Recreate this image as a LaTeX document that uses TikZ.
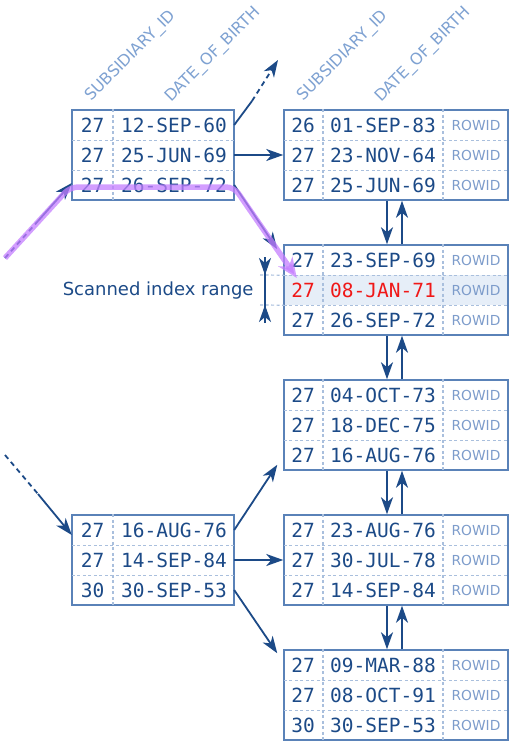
\documentclass[tikz,border=0pt]{standalone}
\usepackage{fontspec}
\setmainfont{DejaVu Sans}
\setmonofont{DejaVu Sans Mono}
\usetikzlibrary{arrows.meta}

\definecolor{navy}{HTML}{1C4A87}
\definecolor{boxblue}{HTML}{5A82B8}
\definecolor{seplight}{HTML}{A9BFDD}
\definecolor{rowblue}{HTML}{7D9CCB}
\definecolor{headblue}{HTML}{7FA2D2}
\definecolor{scanfill}{HTML}{E6EEF8}
\definecolor{scanpurple}{HTML}{C47EFF}
\definecolor{hitred}{HTML}{F01818}

\newcommand\cellfont{\ttfamily\fontsize{19.5}{22}\selectfont}
\newcommand\rowidfont{\fontsize{13.8}{16}\selectfont}
\newcommand\headfont{\fontsize{16}{18}\selectfont}
\newcommand\rangefont{\fontsize{18}{21}\selectfont}

\tikzset{
  box/.style={draw=boxblue, line width=1.5pt, inner sep=0pt, minimum height=90pt},
  branchbox/.style={box, minimum width=162pt},
  leafbox/.style={box, minimum width=224pt},
  cellrow/.style={inner sep=0pt, minimum height=30pt},
  sep/.style={draw=seplight, line width=1.2pt, dash pattern=on 3pt off 2.5pt},
  key/.style={text=navy, font=\cellfont, inner sep=0pt},
  rowid/.style={text=rowblue, font=\rowidfont, inner sep=0pt},
  head/.style={text=headblue, font=\headfont, rotate=45, anchor=base west, inner sep=0pt},
  wire/.style={draw=navy, line width=1.8pt},
  link/.style={wire, -{Stealth[length=17pt,width=12pt,inset=5pt]}},
  scan/.style={draw=scanpurple, opacity=0.75, line width=5.5pt, line join=round,
    rounded corners=8pt, -{Stealth[length=20pt,width=17pt,inset=6pt]}}
}

\begin{document}
\begin{tikzpicture}[x=1pt, y=-1pt]
  \useasboundingbox (0,0) rectangle (513,746);

  % column headers
  \node[head] (h1) at (91,102) {SUBSIDIARY\_ID};
  \node[head] (h2) at (171,103) {DATE\_OF\_BIRTH};
  \node[head] (h3) at (303,102) {SUBSIDIARY\_ID};
  \node[head] (h4) at (381,103) {DATE\_OF\_BIRTH};

  % scanned row background
  \fill[scanfill] (284,275) rectangle (508,305);

  % branch blocks
  \foreach \b/\t/\rows in {B1/110/{27/12-SEP-60,27/25-JUN-69,27/26-SEP-72},
                           B2/515/{27/16-AUG-76,27/14-SEP-84,30/30-SEP-53}} {
    \node[branchbox] (\b) at (153,{\t+45}) {};
    \foreach \s/\d [count=\r] in \rows {
      \node[cellrow, minimum width=162pt] (\b-\r) at (153,{\t+30*\r-15}) {};
      \node[key] (\b s\r) at (92.5,{\t+30*\r-15}) {\s};
      \node[key] (\b d\r) at (174,{\t+30*\r-15}) {\d};
    }
    \draw[sep] (\b-1.south west) -- (\b-1.south east);
    \draw[sep] (\b-2.south west) -- (\b-2.south east);
    \draw[sep] ([xshift=-40]\b.north) -- ([xshift=-40]\b.south);
  }

  % leaf blocks
  \foreach \l/\t/\rows in {
      L1/110/{26/01-SEP-83/navy,27/23-NOV-64/navy,27/25-JUN-69/navy},
      L2/245/{27/23-SEP-69/navy,27/08-JAN-71/hitred,27/26-SEP-72/navy},
      L3/380/{27/04-OCT-73/navy,27/18-DEC-75/navy,27/16-AUG-76/navy},
      L4/515/{27/23-AUG-76/navy,27/30-JUL-78/navy,27/14-SEP-84/navy},
      L5/650/{27/09-MAR-88/navy,27/08-OCT-91/navy,30/30-SEP-53/navy}} {
    \node[leafbox] (\l) at (396,{\t+45}) {};
    \foreach \s/\d/\c [count=\r] in \rows {
      \node[cellrow, minimum width=224pt] (\l-\r) at (396,{\t+30*\r-15}) {};
      \node[key, text=\c] (\l s\r) at (303,{\t+30*\r-15}) {\s};
      \node[key, text=\c] (\l d\r) at (383,{\t+30*\r-15}) {\d};
      \node[rowid] (\l i\r) at (476,{\t+30*\r-15}) {ROWID};
    }
    \draw[sep] (\l-1.south west) -- (\l-1.south east);
    \draw[sep] (\l-2.south west) -- (\l-2.south east);
    \draw[sep] ([xshift=-73]\l.north) -- ([xshift=-73]\l.south);
    \draw[sep] ([xshift=47]\l.north) -- ([xshift=47]\l.south);
  }

  % leaf chain
  \foreach \a/\z in {L1/L2,L2/L3,L3/L4,L4/L5} {
    \draw[link] ([xshift=-9]\a.south) -- ([xshift=-9]\z.north);
    \draw[link] ([xshift=6]\z.north) -- ([xshift=6]\a.south);
  }

  % branch to leaf
  \coordinate (up) at (278,60);
  \coordinate (upmid) at (252,101);
  \draw[wire] (B1-1.east) -- (upmid);
  \draw[link, dash pattern=on 5pt off 4pt] (upmid) -- (up);
  \draw[link] (B1-2.east) -- (L1.west);
  \draw[link] (B1-3.east) -- ([xshift=-6,yshift=-5]L2.north west);

  \draw[link] (B2-1.east) -- ([xshift=-6,yshift=6]L3.south west);
  \draw[link] (B2-2.east) -- (L4.west);
  \draw[link] (B2-3.east) -- ([xshift=-6,yshift=-4]L5.north west);

  % incoming from root
  \coordinate (in1) at (5,258);
  \coordinate (in1mid) at (38,221);
  \draw[wire, dash pattern=on 5pt off 4pt] (in1) -- (in1mid);
  \draw[link] (in1mid) -- ([yshift=2]B1-3.west);
  \coordinate (in2) at (5,455);
  \coordinate (in2mid) at (38,494);
  \draw[wire, dash pattern=on 5pt off 4pt] (in2) -- (in2mid);
  \draw[link] (in2mid) -- ([yshift=-5]B2-1.west);

  % scanned index range
  \coordinate (rsep1) at (260,275);
  \coordinate (rsep2) at (260,305);
  \draw[sep] (rsep1) -- (L2-1.south west);
  \draw[sep] (rsep2) -- (L2-2.south west);
  \coordinate (rtop) at (265,257);
  \coordinate (rbot) at (265,323);
  \coordinate (rt) at (265,275);
  \coordinate (rb) at (265,305);
  \draw[wire, line width=1.2pt] (rtop) -- (rbot);
  \draw[link] (rtop) -- (rt);
  \draw[link] (rbot) -- (rb);
  \node[text=navy, font=\rangefont, anchor=east] (range) at (257,291) {Scanned index range};

  % traversal path
  \draw[scan] (in1) -- (70,187) -- (234,187) -- ([xshift=13,yshift=12]L2-2.west);
\end{tikzpicture}
\end{document}
